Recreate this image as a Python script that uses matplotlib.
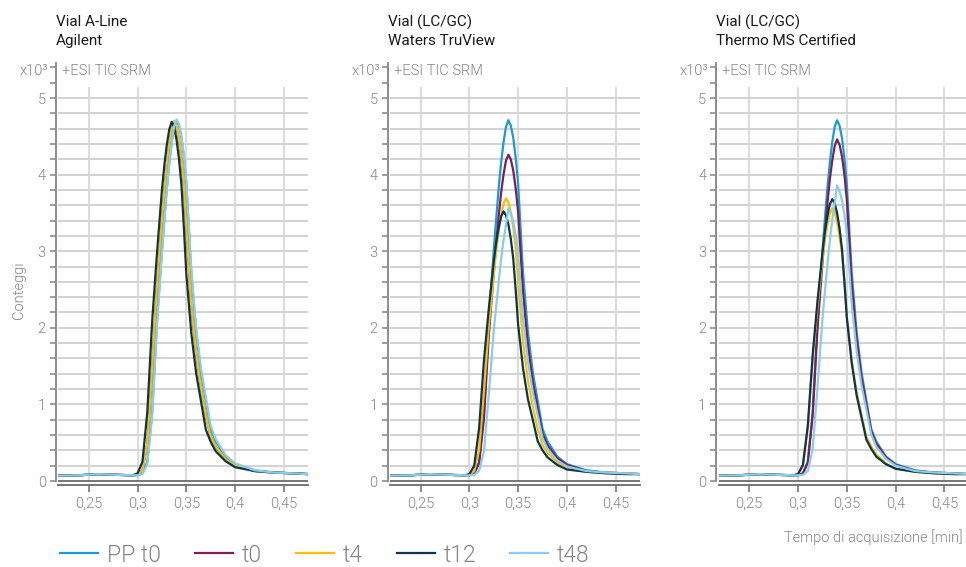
import matplotlib
matplotlib.use("Agg")
import matplotlib.pyplot as plt
from matplotlib.ticker import MultipleLocator

plt.rcParams['font.family'] = ['Roboto', 'DejaVu Sans']

# Tempo di acquisizione [min]
tempo = [0.219, 0.240, 0.260, 0.280, 0.295, 0.300, 0.305, 0.310, 0.315, 0.320,
         0.325, 0.3275, 0.330, 0.3325, 0.335, 0.3375, 0.340, 0.3425, 0.345, 0.3475,
         0.350, 0.355, 0.360, 0.365, 0.370, 0.375, 0.380, 0.390, 0.400, 0.420,
         0.440, 0.460, 0.475]

# Vial A-Line Agilent (conteggi x10^3)
agilent_pp_t0 = [0.07, 0.075, 0.09, 0.08, 0.075, 0.075, 0.10, 0.25, 0.90, 2.11, 3.01, 3.42, 3.82, 4.15, 4.42, 4.62,
                 4.71, 4.64, 4.48, 4.22, 3.88, 2.72, 1.95, 1.42, 1.05, 0.68, 0.52, 0.32, 0.22, 0.14, 0.11, 0.10, 0.09]
agilent_t0 = [0.07, 0.075, 0.09, 0.08, 0.075, 0.08, 0.14, 0.49, 1.47, 2.56, 3.40, 3.79, 4.12, 4.38, 4.58, 4.68,
              4.61, 4.44, 4.19, 3.85, 3.30, 2.28, 1.66, 1.22, 0.85, 0.58, 0.45, 0.29, 0.20, 0.13, 0.11, 0.10, 0.09]
agilent_t4 = [0.07, 0.075, 0.09, 0.08, 0.075, 0.08, 0.14, 0.49, 1.48, 2.57, 3.41, 3.80, 4.14, 4.40, 4.60, 4.70,
              4.63, 4.46, 4.21, 3.86, 3.31, 2.29, 1.67, 1.22, 0.85, 0.58, 0.45, 0.29, 0.20, 0.13, 0.11, 0.10, 0.09]
agilent_t12 = [0.07, 0.075, 0.09, 0.08, 0.075, 0.10, 0.25, 0.90, 2.09, 2.99, 3.80, 4.13, 4.39, 4.59, 4.69, 4.62,
               4.45, 4.20, 3.86, 3.30, 2.70, 1.94, 1.41, 1.04, 0.67, 0.51, 0.39, 0.26, 0.18, 0.13, 0.11, 0.10, 0.09]
agilent_t48 = [0.07, 0.075, 0.09, 0.08, 0.075, 0.075, 0.09, 0.22, 0.85, 2.05, 2.98, 3.40, 3.81, 4.15, 4.42, 4.63,
               4.72, 4.66, 4.50, 4.25, 3.92, 2.78, 2.00, 1.47, 1.09, 0.72, 0.55, 0.34, 0.23, 0.14, 0.11, 0.10, 0.09]

# Vial (LC/GC) Waters TruView
waters_pp_t0 = [0.07, 0.075, 0.09, 0.08, 0.075, 0.075, 0.10, 0.25, 0.90, 2.11, 3.01, 3.42, 3.82, 4.15, 4.42, 4.62,
                4.71, 4.64, 4.48, 4.22, 3.88, 2.72, 1.95, 1.42, 1.05, 0.68, 0.52, 0.32, 0.22, 0.14, 0.11, 0.10, 0.09]
waters_t0 = [0.07, 0.075, 0.09, 0.08, 0.075, 0.075, 0.10, 0.23, 0.82, 1.91, 2.72, 3.10, 3.45, 3.76, 4.00, 4.18,
             4.26, 4.20, 4.05, 3.82, 3.51, 2.46, 1.77, 1.29, 0.95, 0.62, 0.47, 0.30, 0.21, 0.13, 0.11, 0.10, 0.09]
waters_t4 = [0.07, 0.075, 0.09, 0.08, 0.075, 0.08, 0.13, 0.40, 1.18, 2.03, 2.69, 2.99, 3.26, 3.46, 3.62, 3.69,
             3.64, 3.51, 3.31, 3.04, 2.61, 1.81, 1.32, 0.97, 0.68, 0.47, 0.37, 0.24, 0.17, 0.12, 0.11, 0.10, 0.09]
waters_t12 = [0.07, 0.075, 0.09, 0.08, 0.075, 0.09, 0.20, 0.69, 1.58, 2.26, 2.86, 3.11, 3.30, 3.45, 3.52, 3.47,
              3.35, 3.16, 2.90, 2.49, 2.04, 1.47, 1.07, 0.80, 0.52, 0.40, 0.31, 0.21, 0.15, 0.12, 0.10, 0.09, 0.09]
waters_t48 = [0.07, 0.075, 0.09, 0.08, 0.075, 0.075, 0.08, 0.13, 0.39, 1.14, 1.96, 2.28, 2.59, 2.89, 3.14, 3.34,
              3.56, 3.49, 3.39, 3.21, 2.97, 2.13, 1.57, 1.16, 0.86, 0.56, 0.42, 0.27, 0.19, 0.13, 0.11, 0.10, 0.09]

# Vial (LC/GC) Thermo MS Certified
thermo_pp_t0 = [0.07, 0.075, 0.09, 0.08, 0.075, 0.075, 0.10, 0.25, 0.90, 2.11, 3.01, 3.42, 3.82, 4.15, 4.42, 4.62,
                4.71, 4.64, 4.48, 4.22, 3.88, 2.72, 1.95, 1.42, 1.05, 0.68, 0.52, 0.32, 0.22, 0.14, 0.11, 0.10, 0.09]
thermo_t0 = [0.07, 0.075, 0.09, 0.08, 0.075, 0.075, 0.10, 0.24, 0.86, 2.00, 2.85, 3.24, 3.61, 3.93, 4.18, 4.37,
             4.46, 4.39, 4.24, 4.00, 3.67, 2.57, 1.85, 1.35, 1.00, 0.65, 0.49, 0.31, 0.21, 0.13, 0.11, 0.10, 0.09]
thermo_t4 = [0.07, 0.075, 0.09, 0.08, 0.075, 0.09, 0.20, 0.70, 1.60, 2.28, 2.89, 3.14, 3.34, 3.49, 3.56, 3.51,
             3.39, 3.19, 2.98, 2.60, 2.15, 1.58, 1.16, 0.87, 0.58, 0.45, 0.35, 0.23, 0.16, 0.12, 0.10, 0.09, 0.09]
thermo_t12 = [0.07, 0.075, 0.09, 0.08, 0.075, 0.09, 0.21, 0.72, 1.65, 2.36, 2.98, 3.25, 3.45, 3.61, 3.68, 3.63,
              3.50, 3.30, 3.03, 2.60, 2.13, 1.54, 1.12, 0.83, 0.54, 0.42, 0.32, 0.22, 0.16, 0.12, 0.10, 0.09, 0.09]
thermo_t48 = [0.07, 0.075, 0.09, 0.08, 0.075, 0.075, 0.08, 0.13, 0.42, 1.23, 2.12, 2.47, 2.81, 3.13, 3.41, 3.62,
              3.86, 3.78, 3.67, 3.48, 3.22, 2.31, 1.70, 1.25, 0.93, 0.61, 0.45, 0.29, 0.20, 0.13, 0.11, 0.10, 0.09]

series_labels = ["PP t0", "t0", "t4", "t12", "t48"]
series_colors = ["#1b9ad9", "#7b1e5c", "#f7c100", "#0b3452", "#86cdee"]

panel_titles = [("Vial A-Line", "Agilent"),
                ("Vial (LC/GC)", "Waters TruView"),
                ("Vial (LC/GC)", "Thermo MS Certified")]
panel_data = [
    [agilent_pp_t0, agilent_t0, agilent_t4, agilent_t12, agilent_t48],
    [waters_pp_t0, waters_t0, waters_t4, waters_t12, waters_t48],
    [thermo_pp_t0, thermo_t0, thermo_t4, thermo_t12, thermo_t48],
]

x_ticks = [0.25, 0.30, 0.35, 0.40, 0.45]
x_ticklabels = ["0,25", "0,3", "0,35", "0,4", "0,45"]
y_ticks = [0, 1, 2, 3, 4, 5]

GRAY = "#858585"
DARK = "#6b6b6b"
LIGHT = 300   # Roboto Light

W, H = 966, 567
fig = plt.figure(figsize=(W / 100, H / 100), dpi=100)

lefts = [58, 389.8, 718.5]
widths = [250, 250, 247.5]
bot_px, top_px = 485.3, 63

for i in range(3):
    ax = fig.add_axes([lefts[i] / W, (H - bot_px) / H, widths[i] / W, (bot_px - top_px) / H])
    ax.set_xlim(0.2185, 0.2185 + widths[i] / 976)
    ax.set_ylim(-0.056, 5.457)

    # grid
    ax.hlines([v / 5 for v in range(1, 26)], 0.2185, 0.2185 + widths[i] / 976,
              color="#cbcbcb", lw=1.2, zorder=1)
    ax.vlines(x_ticks, 0, 5.14, color="#d6d6d6", lw=1.2, zorder=1)
    ax.axhline(0, color=DARK, lw=1.3, zorder=2)

    for vals, lab, col in zip(panel_data[i], series_labels, series_colors):
        ax.plot(tempo, vals, color=col, lw=1.6, label=lab, zorder=3)

    for s in ["top", "right"]:
        ax.spines[s].set_visible(False)
    ax.spines["left"].set_position(("outward", 1.5))
    ax.spines["left"].set_bounds(0, 5.457)
    ax.spines["left"].set_color(GRAY)
    ax.spines["left"].set_linewidth(1.3)
    ax.spines["bottom"].set_color(DARK)
    ax.spines["bottom"].set_linewidth(1.3)

    ax.set_xticks(x_ticks)
    ax.set_xticklabels(x_ticklabels, fontweight=LIGHT)
    ax.set_yticks(y_ticks)
    ax.set_yticklabels([str(v) for v in y_ticks], fontweight=LIGHT)
    ax.yaxis.set_minor_locator(MultipleLocator(0.2))
    ax.tick_params(axis="y", which="both", direction="out", length=4.3, width=1.1,
                   color=GRAY, labelcolor=GRAY, labelsize=10.5, pad=3)
    ax.tick_params(axis="x", direction="out", length=5, width=1.1,
                   color=DARK, labelcolor=GRAY, labelsize=10.5, pad=3)

    sx = (lefts[i] - 2) / W
    fig.text(sx, 1 - 22 / H, panel_titles[i][0], fontsize=11, color="#1a1a1a", va="center")
    fig.text(sx, 1 - 41 / H, panel_titles[i][1], fontsize=11, color="#1a1a1a", va="center")
    fig.text((lefts[i] - 10) / W, 1 - 71 / H, "x10\u00b3", fontsize=10.5, color=GRAY,
             ha="right", va="center", fontweight=LIGHT)
    fig.text((lefts[i] + 4) / W, 1 - 71 / H, "+ESI TIC SRM", fontsize=10.5, color=GRAY,
             va="center", fontweight=LIGHT)

    if i == 0:
        handles, labels = ax.get_legend_handles_labels()

fig.text(19 / W, 1 - 290 / H, "Conteggi", rotation=90, fontsize=10.5, color=GRAY,
         ha="center", va="center", fontweight=LIGHT)
fig.text(963 / W, 1 - 537 / H, "Tempo di acquisizione [min]", fontsize=10.5, color=GRAY,
         ha="right", va="center", fontweight=LIGHT)

fig.legend(handles, labels, loc="center left", bbox_to_anchor=(60 / W, 1 - 555 / H),
           ncol=5, frameon=False, prop={"size": 16.5, "weight": LIGHT}, labelcolor=GRAY,
           handlelength=1.65, handletextpad=0.38, columnspacing=1.5, borderpad=0,
           borderaxespad=0)

fig.savefig("out.png", dpi=100)
